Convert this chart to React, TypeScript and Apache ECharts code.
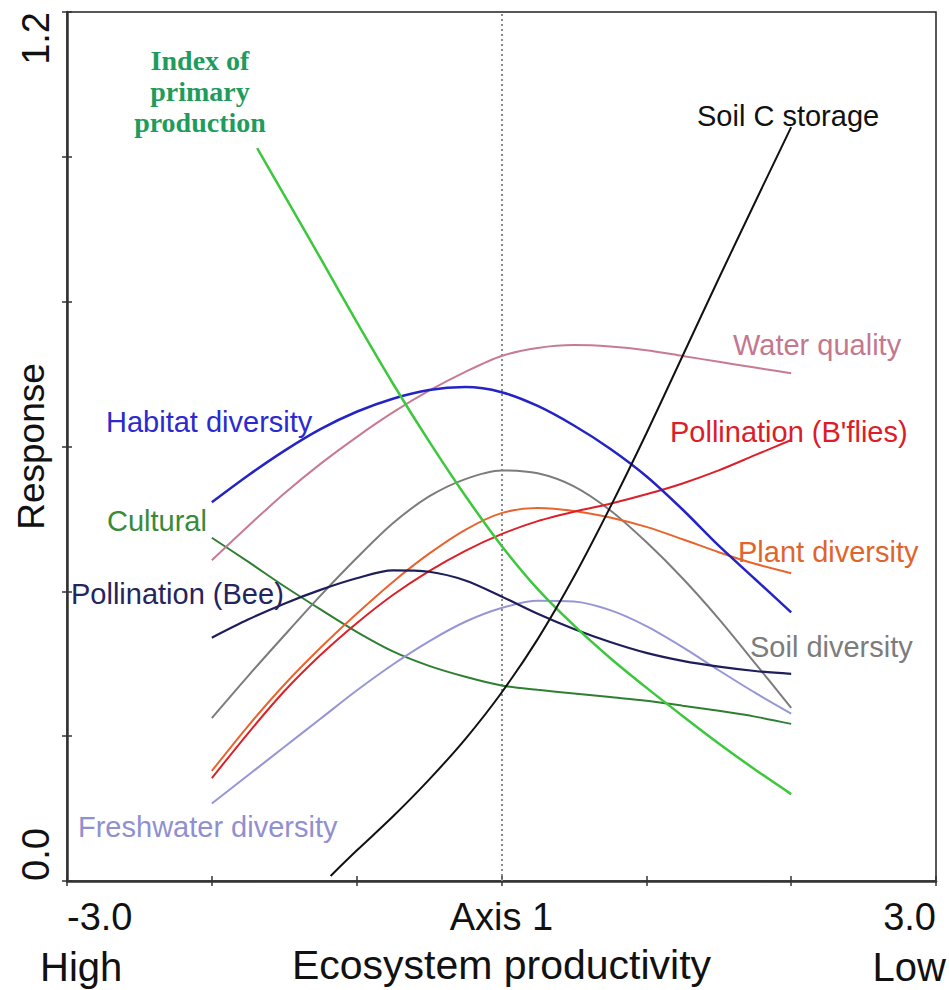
import React, { useEffect, useRef } from "react";
import * as echarts from "echarts";

// ---- data ----
const xGrid = [-2, -1.75, -1.5, -1.25, -1, -0.75, -0.5, -0.25, 0, 0.25, 0.5, 0.75, 1, 1.25, 1.5, 1.75, 2];
const habitatDiversity = [0.523, 0.56, 0.594, 0.624, 0.648, 0.666, 0.678, 0.682, 0.675, 0.656, 0.629, 0.597, 0.559, 0.513, 0.463, 0.417, 0.371];
const waterQuality = [0.443, 0.49, 0.535, 0.576, 0.613, 0.647, 0.677, 0.703, 0.725, 0.736, 0.74, 0.738, 0.733, 0.725, 0.717, 0.709, 0.701];
const pollinationBflies = [0.142, 0.204, 0.262, 0.312, 0.356, 0.395, 0.428, 0.456, 0.479, 0.497, 0.51, 0.521, 0.534, 0.549, 0.567, 0.588, 0.609];
const plantDiversity = [0.152, 0.214, 0.271, 0.322, 0.369, 0.413, 0.452, 0.485, 0.508, 0.515, 0.511, 0.502, 0.489, 0.472, 0.454, 0.438, 0.425];
const soilDiversity = [0.225, 0.283, 0.339, 0.394, 0.446, 0.494, 0.531, 0.555, 0.567, 0.563, 0.545, 0.512, 0.468, 0.418, 0.362, 0.301, 0.239];
const freshwaterDiversity = [0.107, 0.146, 0.185, 0.224, 0.263, 0.299, 0.331, 0.358, 0.377, 0.387, 0.386, 0.374, 0.352, 0.323, 0.291, 0.26, 0.231];
const pollinationBee = [0.336, 0.361, 0.383, 0.402, 0.418, 0.429, 0.427, 0.415, 0.393, 0.369, 0.348, 0.33, 0.315, 0.304, 0.296, 0.29, 0.286];
const cultural = [0.474, 0.441, 0.407, 0.375, 0.344, 0.317, 0.297, 0.282, 0.27, 0.264, 0.259, 0.254, 0.249, 0.242, 0.235, 0.227, 0.217];
const primaryX = [-1.687, -1.5, -1.25, -1, -0.75, -0.5, -0.25, 0, 0.25, 0.5, 0.75, 1, 1.25, 1.5, 1.75, 2];
const primaryProduction = [1.012, 0.947, 0.86, 0.772, 0.687, 0.607, 0.532, 0.463, 0.403, 0.353, 0.308, 0.267, 0.228, 0.19, 0.154, 0.12];
const soilCX = [-1.18, -1, -0.75, -0.5, -0.25, 0, 0.25, 0.5, 0.75, 1, 1.25, 1.5, 1.75, 2];
const soilCStorage = [0.007, 0.042, 0.089, 0.14, 0.196, 0.26, 0.334, 0.42, 0.516, 0.618, 0.725, 0.832, 0.937, 1.041];

const xTickLabels: Record<string, string> = { "-3": "-3.0", "0": "Axis 1", "3": "3.0" };
const yMinLabel = "0.0";
const yMaxLabel = "1.2";

const SANS = '"Liberation Sans", Arial, sans-serif';

const seriesDefs = [
  { name: "Cultural", xs: xGrid, ys: cultural, color: "#2f7f32", width: 2 },
  { name: "Freshwater diversity", xs: xGrid, ys: freshwaterDiversity, color: "#9696d6", width: 2 },
  { name: "Soil diversity", xs: xGrid, ys: soilDiversity, color: "#7c7c7c", width: 2 },
  { name: "Plant diversity", xs: xGrid, ys: plantDiversity, color: "#e8642c", width: 2 },
  { name: "Pollination (B'flies)", xs: xGrid, ys: pollinationBflies, color: "#dc2028", width: 2 },
  { name: "Water quality", xs: xGrid, ys: waterQuality, color: "#c87a94", width: 2 },
  { name: "Pollination (Bee)", xs: xGrid, ys: pollinationBee, color: "#1e1e5a", width: 2.2 },
  { name: "Habitat diversity", xs: xGrid, ys: habitatDiversity, color: "#2424c4", width: 2.5 },
  { name: "Index of primary production", xs: primaryX, ys: primaryProduction, color: "#3cc83c", width: 2.5 },
  { name: "Soil C storage", xs: soilCX, ys: soilCStorage, color: "#111111", width: 2 },
];

const curveLabels = [
  { text: "Soil C storage", x: 697, y: 116, color: "#111111" },
  { text: "Water quality", x: 733, y: 345, color: "#c47890" },
  { text: "Habitat diversity", x: 106, y: 422, color: "#2a2ad0" },
  { text: "Pollination (B'flies)", x: 670, y: 432, color: "#dc1c28" },
  { text: "Cultural", x: 107, y: 521, color: "#3a8a3a" },
  { text: "Plant diversity", x: 738, y: 552, color: "#e0642c" },
  { text: "Pollination (Bee)", x: 71, y: 594, color: "#24245e" },
  { text: "Soil diversity", x: 750, y: 647, color: "#7c7c7c" },
  { text: "Freshwater diversity", x: 78, y: 827, color: "#9090d0" },
];

function near(a: number, b: number) {
  return Math.abs(a - b) < 1e-6;
}

export default function App() {
  const ref = useRef<HTMLDivElement>(null);
  useEffect(() => {
    if (!ref.current) return;
    const chart = echarts.init(ref.current, null, { renderer: "svg" });

    const series: any[] = seriesDefs.map((s, i) => ({
      type: "line",
      name: s.name,
      xAxisIndex: 0,
      yAxisIndex: 0,
      data: s.xs.map((x, k) => [x, s.ys[k]]),
      smooth: 0.3,
      showSymbol: false,
      symbol: "none",
      lineStyle: { color: s.color, width: s.width },
      itemStyle: { color: s.color },
      z: 3 + i,
    }));
    series[0].markLine = {
      silent: true,
      symbol: "none",
      label: { show: false },
      lineStyle: { color: "#8a8a8a", type: [2, 3], width: 2 },
      data: [{ xAxis: 0 }],
      z: 1,
    };

    const option: any = {
      animation: false,
      backgroundColor: "#ffffff",
      grid: {
        left: 67,
        right: 13,
        top: 12,
        bottom: 109,
        outerBoundsMode: "none",
        containLabel: false,
        show: true,
        borderColor: "#222222",
        borderWidth: 1.5,
        backgroundColor: "transparent",
      },
      xAxis: [
        {
          type: "value",
          min: -3,
          max: 3,
          interval: 1,
          position: "bottom",
          axisLine: { show: true, onZero: false, lineStyle: { color: "#333333", width: 2.5 } },
          axisTick: { show: true, inside: true, length: 5, lineStyle: { color: "#333333", width: 1.5 } },
          splitLine: { show: false },
          axisLabel: {
            formatter: (v: number) => xTickLabels[String(Math.round(v))] ?? "",
            fontSize: 38,
            fontFamily: SANS,
            color: "#111111",
            margin: 17,
            alignMinLabel: "left",
            alignMaxLabel: "right",
          },
          name: "Ecosystem productivity",
          nameLocation: "middle",
          nameGap: 63,
          nameMoveOverlap: false,
          nameTextStyle: { fontSize: 41, fontFamily: SANS, color: "#111111" },
        },
        {
          type: "value",
          min: -3,
          max: 3,
          interval: 1,
          position: "bottom",
          axisLine: { show: false, onZero: false },
          axisTick: { show: true, inside: false, length: 5, lineStyle: { color: "#333333", width: 1.5 } },
          splitLine: { show: false },
          axisLabel: { show: false },
        },
      ],
      yAxis: [
        {
          type: "value",
          min: 0,
          max: 1.2,
          interval: 0.2,
          position: "left",
          axisLine: { show: true, onZero: false, lineStyle: { color: "#333333", width: 2.5 } },
          axisTick: { show: true, inside: true, length: 5, lineStyle: { color: "#333333", width: 1.5 } },
          splitLine: { show: false },
          axisLabel: {
            rotate: 90,
            align: "left",
            formatter: (v: number) => (near(v, 0) ? yMinLabel : ""),
            fontSize: 38,
            fontFamily: SANS,
            color: "#111111",
            margin: 12,
          },
          name: "Response",
          nameLocation: "middle",
          nameRotate: 90,
          nameGap: 17,
          nameMoveOverlap: false,
          nameTextStyle: { fontSize: 37, fontFamily: SANS, color: "#111111" },
        },
        {
          type: "value",
          min: 0,
          max: 1.2,
          interval: 0.2,
          position: "left",
          axisLine: { show: false, onZero: false },
          axisTick: { show: true, inside: false, length: 5, lineStyle: { color: "#333333", width: 1.5 } },
          splitLine: { show: false },
          axisLabel: {
            rotate: 90,
            align: "right",
            formatter: (v: number) => (near(v, 1.2) ? yMaxLabel : ""),
            fontSize: 38,
            fontFamily: SANS,
            color: "#111111",
            margin: 12,
          },
        },
      ],
      graphic: [
        ...curveLabels.map((l) => ({
          type: "text",
          x: l.x,
          y: l.y,
          silent: true,
          z: 50,
          style: {
            text: l.text,
            fill: l.color,
            font: `29px ${SANS}`,
            align: "left",
            verticalAlign: "middle",
            textAlign: "left",
            textVerticalAlign: "middle",
          },
        })),
        {
          type: "text",
          x: 200,
          y: 91,
          silent: true,
          z: 50,
          style: {
            text: "Index of\nprimary\nproduction",
            fill: "#1f9c5c",
            font: `bold 28px "Liberation Serif", "Times New Roman", serif`,
            lineHeight: 31,
            align: "center",
            verticalAlign: "middle",
            textAlign: "center",
            textVerticalAlign: "middle",
          },
        },
        {
          type: "text",
          x: 40,
          y: 967,
          silent: true,
          style: {
            text: "High",
            fill: "#111111",
            font: `40px ${SANS}`,
            align: "left",
            verticalAlign: "middle",
            textAlign: "left",
            textVerticalAlign: "middle",
          },
        },
        {
          type: "text",
          x: 946,
          y: 967,
          silent: true,
          style: {
            text: "Low",
            fill: "#111111",
            font: `40px ${SANS}`,
            align: "right",
            verticalAlign: "middle",
            textAlign: "right",
            textVerticalAlign: "middle",
          },
        },
      ],
      series,
    };

    chart.setOption(option);
    return () => chart.dispose();
  }, []);

  return (
    <div
      ref={ref}
      style={{ position: "absolute", left: 0, top: 0, width: 949, height: 990, background: "#fff" }}
    />
  );
}
